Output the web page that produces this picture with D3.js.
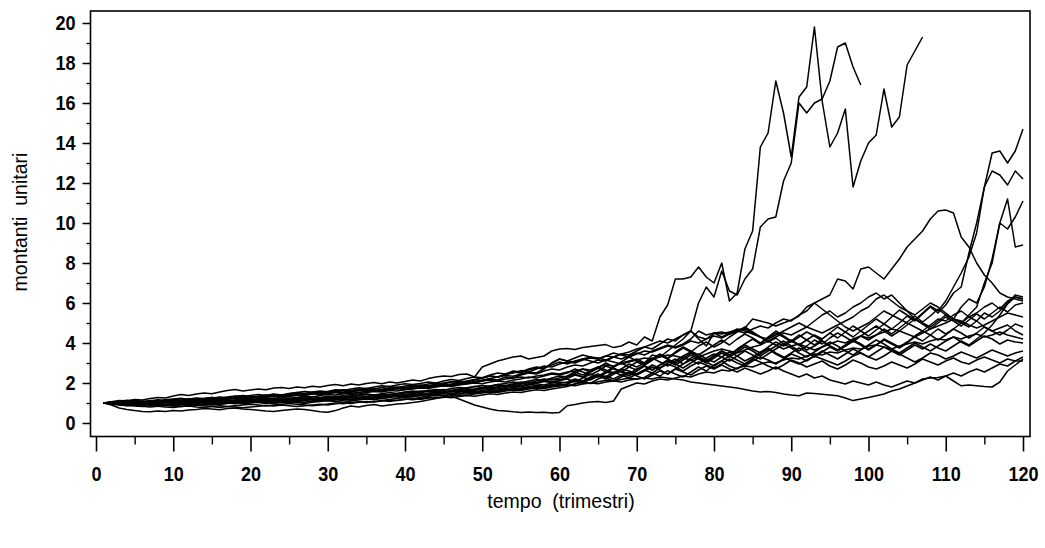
<!DOCTYPE html>
<html><head><meta charset="utf-8">
<script src="https://cdn.jsdelivr.net/npm/d3@7/dist/d3.min.js"></script>
<style>
body{margin:0;background:#fff;}
text{font-family:"Liberation Sans",Arial,Helvetica,sans-serif;fill:#000;}
</style>
</head><body>
<svg id="chart" width="1045" height="548"></svg>
<script>
// ---- data: quarterly unit accumulation values, one array per simulated path (t = 1, 2, 3, ...)
const xTickValues = [0,10,20,30,40,50,60,70,80,90,100,110,120];
const yTickValues = [0,2,4,6,8,10,12,14,16,18,20];
const xLabel = "tempo  (trimestri)";
const yLabel = "montanti  unitari";

const pathA = [
1.00,1.06,1.12,1.10,1.18,1.15,1.22,1.28,1.25,1.35,
1.42,1.38,1.45,1.50,1.46,1.55,1.62,1.68,1.60,1.65,
1.70,1.66,1.75,1.78,1.72,1.80,1.76,1.84,1.80,1.88,
1.92,1.86,1.95,1.90,1.98,2.02,1.96,2.05,2.00,2.08,
2.15,2.10,2.22,2.30,2.35,2.32,2.42,2.45,2.30,2.80,
2.95,3.10,3.20,3.30,3.35,3.20,3.28,3.35,3.60,3.70,
3.72,3.68,3.77,3.82,3.88,3.92,3.77,3.85,4.05,3.90,
4.30,4.10,5.30,5.90,7.20,7.20,7.30,7.80,7.30,7.00,
8.00,6.10,6.50,8.70,9.60,13.8,14.5,17.1,15.5,13.3,
16.3,16.8,19.8,16.1,13.8,14.5,15.7,11.8,13.1,14.0,
14.4,16.7,14.8,15.3,17.9,18.6,19.3];
const pathB = [
1.00,0.95,0.98,1.02,0.96,1.00,1.05,1.02,1.08,1.10,
1.05,1.12,1.15,1.10,1.18,1.22,1.18,1.25,1.28,1.24,
1.30,1.34,1.30,1.38,1.42,1.38,1.45,1.50,1.46,1.52,
1.56,1.50,1.58,1.62,1.66,1.60,1.68,1.72,1.70,1.78,
1.82,1.78,1.85,1.90,1.88,1.95,2.00,1.96,2.05,2.10,
2.15,2.10,2.20,2.25,2.30,2.25,2.35,2.40,2.50,2.45,
2.55,2.60,2.70,2.65,2.80,2.90,2.85,3.00,3.10,3.20,
3.00,3.40,3.30,3.60,3.90,4.20,4.60,6.00,6.80,6.30,
7.60,6.60,6.40,7.20,7.70,9.80,10.2,10.3,12.1,13.0,
16.0,15.5,16.0,16.2,17.1,18.8,19.0,17.8,16.9];
const pathC = [
1.00,1.02,0.95,0.92,0.98,1.00,0.95,0.98,1.04,1.00,
1.06,1.10,1.05,1.12,1.15,1.10,1.08,1.14,1.20,1.16,
1.22,1.25,1.20,1.28,1.32,1.28,1.35,1.30,1.38,1.42,
1.40,1.46,1.50,1.45,1.52,1.58,1.55,1.62,1.60,1.66,
1.70,1.75,1.72,1.80,1.85,1.82,1.90,1.95,2.00,1.96,
2.05,2.10,2.05,2.15,2.20,2.30,2.25,2.35,2.45,2.40,
2.50,2.70,2.55,2.40,2.60,2.85,2.70,2.55,2.80,3.05,
2.90,3.15,3.40,3.20,3.00,3.25,3.50,3.30,3.10,3.35,
3.60,3.40,3.65,3.90,3.70,3.50,3.80,4.05,3.85,4.10,
4.40,4.15,3.90,4.20,4.50,4.25,4.55,4.85,4.60,4.35,
4.65,4.95,4.70,5.00,5.35,5.10,5.45,5.80,5.50,5.90,
6.50,6.80,8.50,10.0,11.8,13.5,13.6,13.0,13.6,14.7];
const pathD = [
1.00,1.03,1.08,1.04,0.98,1.02,1.08,1.12,1.06,1.02,
1.00,1.05,1.02,1.08,1.12,1.18,1.14,1.10,1.16,1.22,
1.18,1.15,1.22,1.28,1.24,1.20,1.26,1.32,1.28,1.34,
1.30,1.38,1.42,1.38,1.45,1.40,1.46,1.52,1.48,1.55,
1.60,1.55,1.62,1.68,1.64,1.72,1.78,1.74,1.82,1.88,
1.84,1.92,1.98,2.05,2.00,2.10,2.18,2.12,2.25,2.35,
2.30,2.50,2.70,2.55,2.75,3.00,2.80,3.05,3.30,3.10,
2.95,3.20,3.45,3.25,3.55,3.80,3.60,3.40,3.65,3.90,
4.15,3.90,4.20,4.45,4.25,4.00,4.30,4.60,4.35,4.10,
3.90,4.15,4.40,4.20,4.50,4.80,4.55,4.30,4.60,4.90,
5.20,4.95,5.30,5.65,5.40,5.15,5.50,5.85,5.60,6.10,
6.80,7.50,8.30,9.50,11.8,12.6,12.4,11.9,12.6,12.2];
const pathE = [
1.00,0.96,0.92,0.96,1.00,0.97,0.93,0.90,0.94,0.98,
1.02,0.98,1.04,1.08,1.04,1.00,1.06,1.10,1.06,1.12,
1.16,1.12,1.08,1.14,1.18,1.15,1.20,1.24,1.20,1.26,
1.22,1.28,1.32,1.28,1.34,1.38,1.35,1.40,1.46,1.42,
1.48,1.52,1.48,1.56,1.60,1.55,1.62,1.68,1.64,1.72,
1.80,1.76,1.85,1.90,1.86,1.95,2.00,2.08,2.02,2.12,
2.20,2.05,2.25,2.45,2.30,2.50,2.75,2.55,2.35,2.60,
2.85,2.65,2.90,3.15,2.95,2.75,3.00,3.25,3.05,2.85,
3.10,3.35,3.15,2.95,3.20,3.45,3.70,3.45,3.25,3.50,
3.75,3.55,3.30,3.55,3.80,3.60,3.85,4.10,3.90,3.65,
3.90,4.15,3.95,3.75,4.00,4.30,4.10,4.40,4.70,4.45,
4.70,5.00,5.40,5.80,7.00,8.00,10.0,9.70,10.3,11.1];
const pathF = [
1.00,1.05,1.00,0.95,0.92,0.88,0.92,0.95,0.90,0.86,
0.90,0.94,0.98,0.94,0.90,0.95,1.00,0.96,1.02,1.06,
1.02,0.98,1.04,1.08,1.12,1.08,1.04,1.10,1.15,1.20,
1.16,1.22,1.26,1.20,1.24,1.30,1.35,1.32,1.38,1.34,
1.40,1.46,1.42,1.50,1.55,1.60,1.56,1.62,1.70,1.75,
1.70,1.80,1.88,1.82,1.95,2.05,2.00,2.10,2.20,2.15,
2.30,2.45,2.30,2.55,2.75,2.55,2.80,3.00,2.80,2.65,
2.90,3.15,3.40,3.20,3.50,3.75,3.55,3.85,4.05,3.80,
4.00,4.30,4.55,4.80,4.55,4.30,4.05,4.25,3.95,4.15,
3.90,3.65,3.85,4.10,3.85,3.65,3.85,4.10,4.35,4.15,
4.40,4.70,4.45,4.75,5.05,5.35,5.05,5.35,5.70,5.40,
5.20,5.80,6.20,6.00,6.80,8.20,10.0,11.2,8.80,8.90];
const pathG = [
1.00,1.04,1.00,1.06,1.10,1.05,1.12,1.08,1.14,1.18,
1.15,1.20,1.25,1.22,1.28,1.24,1.30,1.35,1.32,1.38,
1.42,1.38,1.45,1.40,1.48,1.52,1.48,1.55,1.60,1.56,
1.62,1.66,1.60,1.68,1.72,1.70,1.78,1.82,1.76,1.85,
1.90,1.86,1.95,2.00,1.95,2.05,2.10,2.05,2.15,2.25,
2.35,2.30,2.45,2.55,2.50,2.65,2.75,2.70,3.00,3.20,
3.10,3.25,3.40,3.30,3.20,3.35,3.50,3.40,3.30,3.45,
3.60,3.55,3.70,3.85,3.75,3.90,4.10,4.00,4.20,4.35,
4.25,4.45,4.60,4.50,4.70,4.85,4.75,5.00,5.20,5.10,
5.40,5.60,6.00,6.20,6.40,7.20,7.10,6.70,7.70,7.80,
7.50,7.20,7.70,8.20,8.80,9.20,9.60,10.2,10.6,10.65,
10.5,9.30,8.80,8.00,7.40,7.00,6.50,6.30,6.20,6.10];
const pathH = [
1.00,0.98,1.03,1.08,1.04,1.10,1.06,1.02,1.08,1.12,
1.08,1.14,1.18,1.12,1.08,1.14,1.20,1.25,1.20,1.28,
1.32,1.28,1.35,1.40,1.36,1.42,1.38,1.45,1.50,1.46,
1.52,1.48,1.55,1.62,1.58,1.65,1.60,1.68,1.74,1.70,
1.78,1.84,1.80,1.88,1.95,1.90,1.98,2.05,2.00,2.10,
2.20,2.15,2.30,2.25,2.40,2.50,2.45,2.60,2.70,2.65,
2.80,2.90,2.85,3.00,3.15,3.10,3.30,3.45,3.40,3.60,
3.80,3.70,3.95,4.20,4.10,4.40,4.60,4.30,4.20,4.50,
4.45,4.55,4.65,4.75,5.20,5.10,5.00,4.85,5.00,5.15,
5.35,5.80,6.00,5.70,5.40,5.10,4.80,4.60,4.80,5.00,
5.30,5.60,5.40,5.20,5.00,4.80,4.60,4.90,5.20,5.10,
5.40,5.60,5.30,5.50,5.80,6.00,5.70,6.10,6.30,6.20];
const pathL1 = [
1.00,0.97,0.92,0.88,0.85,0.82,0.86,0.84,0.80,0.78,
0.82,0.85,0.80,0.78,0.83,0.86,0.82,0.80,0.76,0.80,
0.84,0.88,0.85,0.90,0.86,0.82,0.86,0.90,0.94,0.90,
0.96,1.00,0.98,1.04,1.08,1.05,1.10,1.15,1.12,1.18,
1.22,1.18,1.25,1.30,1.28,1.35,1.40,1.38,1.45,1.50,
1.55,1.52,1.60,1.65,1.62,1.70,1.75,1.72,1.80,1.85,
1.90,1.86,1.95,2.00,1.96,2.05,2.10,2.05,2.15,2.20,
2.25,2.20,2.30,2.25,2.20,2.15,2.05,2.00,1.95,1.90,
1.85,1.80,1.75,1.68,1.60,1.55,1.58,1.53,1.45,1.40,
1.36,1.50,1.48,1.44,1.40,1.36,1.25,1.12,1.20,1.28,
1.36,1.45,1.60,1.70,1.85,2.00,2.20,2.25,2.28,2.35,
2.10,1.86,1.90,1.86,1.82,1.80,2.05,2.60,2.90,3.20];
const pathL2 = [
1.00,0.90,0.75,0.68,0.62,0.58,0.56,0.60,0.58,0.62,
0.60,0.65,0.68,0.72,0.70,0.66,0.72,0.75,0.70,0.68,
0.64,0.60,0.57,0.62,0.66,0.70,0.68,0.62,0.56,0.54,
0.62,0.75,0.85,0.80,0.88,0.92,0.85,0.90,0.95,0.98,
1.02,1.08,1.15,1.22,1.30,1.34,1.20,1.05,0.90,0.80,
0.70,0.62,0.60,0.56,0.53,0.55,0.52,0.54,0.50,0.53,
0.86,0.92,1.00,1.05,1.08,1.02,1.10,1.70,1.85,2.00,
1.95,2.10,2.20,2.15,2.25,2.35,2.30,2.45,2.55,2.50,
2.65,2.60,2.75,2.85,2.80,2.95,3.05,3.00,3.15,3.25,
3.20,3.35,3.45,3.40,3.55,3.50,3.65,3.75,3.70,3.85,
3.90,3.80,3.70,3.85,3.95,4.05,3.95,4.10,4.20,4.15,
4.30,4.20,4.35,4.45,4.30,4.40,4.55,4.40,4.30,4.20];
const pathL3 = [
1.00,1.02,0.98,0.94,0.90,0.95,0.92,0.88,0.92,0.96,
0.94,0.90,0.95,1.00,0.96,0.92,0.98,1.02,1.00,1.05,
1.02,1.08,1.12,1.06,1.02,1.08,1.12,1.18,1.14,1.10,
1.16,1.22,1.18,1.25,1.30,1.26,1.32,1.28,1.35,1.40,
1.45,1.40,1.48,1.55,1.50,1.58,1.62,1.56,1.65,1.70,
1.75,1.70,1.78,1.85,1.80,1.90,1.96,1.90,2.00,2.05,
2.00,2.15,2.05,2.25,2.40,2.25,2.10,2.30,2.50,2.35,
2.20,2.40,2.60,2.45,2.70,2.55,2.40,2.65,2.85,2.70,
2.90,2.70,2.55,2.75,2.60,2.45,2.60,2.80,2.60,2.45,
2.30,2.45,2.25,2.35,2.15,2.05,1.95,2.10,2.00,1.90,
2.05,1.90,1.80,1.95,2.10,2.00,2.15,2.30,2.15,2.35,
2.50,2.35,2.55,2.70,2.55,2.75,2.95,2.85,3.10,3.30];
const pathS1 = [
1.00,1.01,1.06,1.10,1.14,1.08,1.04,1.10,1.16,1.20,
1.24,1.18,1.12,1.18,1.24,1.30,1.26,1.32,1.38,1.34,
1.30,1.36,1.42,1.38,1.46,1.52,1.58,1.54,1.50,1.58,
1.66,1.62,1.70,1.76,1.72,1.80,1.86,1.82,1.90,1.96,
1.92,1.98,2.05,2.00,2.10,2.18,2.12,2.22,2.30,2.26,
2.40,2.50,2.45,2.60,2.55,2.70,2.80,2.75,2.90,3.05,
2.95,3.10,3.20,3.10,3.00,3.15,3.30,3.20,3.35,3.50,
3.40,3.60,3.75,3.90,3.80,3.95,4.20,4.60,4.40,4.50,
4.30,4.50,4.70,4.60,4.45,4.30,4.20,4.40,4.60,4.80,
5.00,4.80,5.10,5.40,5.60,5.30,5.50,5.80,6.00,6.30,
6.50,6.20,6.40,6.00,5.60,5.20,5.00,4.80,5.10,5.40,
5.20,5.00,4.80,5.10,5.50,5.30,5.60,6.00,6.40,6.30];
const pathS2 = [
1.00,0.94,0.90,0.86,0.90,0.94,0.98,0.94,0.90,0.92,
0.96,1.00,0.95,0.92,0.96,1.00,1.04,1.00,0.96,1.00,
1.05,1.02,0.98,1.02,1.06,1.02,0.98,1.04,1.08,1.12,
1.08,1.04,1.10,1.15,1.20,1.16,1.22,1.18,1.24,1.28,
1.32,1.28,1.35,1.40,1.36,1.42,1.48,1.45,1.52,1.58,
1.55,1.62,1.68,1.65,1.72,1.78,1.75,1.82,1.90,1.86,
1.95,2.10,2.00,2.20,2.35,2.20,2.45,2.60,2.45,2.70,
2.85,2.65,2.90,3.10,2.90,3.15,3.40,3.20,3.00,3.25,
3.50,3.30,3.55,3.80,3.60,3.35,3.60,3.85,4.10,3.85,
3.60,3.85,4.15,3.95,4.25,4.50,4.30,4.05,4.35,4.60,
4.85,4.60,4.35,4.60,4.90,5.20,4.95,4.70,5.00,5.30,
5.10,4.85,5.15,5.45,5.20,5.50,5.80,5.55,5.90,6.00];
const pathS3 = [
1.00,1.04,0.99,0.94,0.98,1.03,1.00,1.05,1.10,1.06,
1.10,1.16,1.12,1.18,1.22,1.18,1.24,1.20,1.26,1.32,
1.28,1.34,1.40,1.36,1.42,1.48,1.44,1.50,1.56,1.52,
1.58,1.55,1.62,1.68,1.64,1.72,1.68,1.75,1.80,1.76,
1.84,1.90,1.86,1.94,2.00,2.06,2.02,2.10,2.18,2.25,
2.35,2.30,2.42,2.50,2.62,2.55,2.70,2.85,2.80,2.95,
3.05,3.00,3.15,3.25,3.20,3.35,3.30,3.45,3.55,3.70,
3.80,3.95,4.10,4.00,4.20,4.40,4.60,4.20,3.85,4.50,
4.55,4.45,4.60,4.70,4.50,4.30,4.10,3.90,3.70,3.85,
3.95,3.80,3.65,3.80,3.95,4.10,4.00,4.20,4.35,4.25,
4.40,4.55,4.70,4.60,4.45,4.30,4.50,4.70,4.85,5.00,
5.20,5.10,4.90,4.75,4.90,5.10,5.30,5.50,5.40,5.30];
const pathS4 = [
1.00,0.99,0.95,1.00,1.04,1.00,0.96,1.00,1.02,0.98,
1.02,1.06,1.10,1.06,1.02,1.06,1.10,1.15,1.12,1.08,
1.12,1.18,1.15,1.20,1.16,1.12,1.18,1.22,1.26,1.22,
1.28,1.24,1.30,1.36,1.32,1.38,1.44,1.40,1.45,1.50,
1.55,1.60,1.56,1.62,1.68,1.64,1.70,1.76,1.82,1.78,
1.85,1.92,1.88,1.96,2.05,2.00,2.10,2.20,2.15,2.25,
2.35,2.55,2.40,2.60,2.80,2.65,2.50,2.70,2.95,2.80,
3.00,3.25,3.05,2.85,3.10,3.35,3.55,3.30,3.10,3.35,
3.60,3.40,3.70,3.95,4.20,3.95,4.25,4.50,4.30,4.05,
4.30,4.55,4.35,4.10,3.85,3.65,3.90,4.15,3.95,3.70,
3.90,4.20,4.00,3.80,4.05,4.35,4.60,4.40,4.15,4.40,
4.70,4.50,4.25,4.50,4.80,4.60,4.40,4.65,4.95,4.80];
const pathS5 = [
1.00,1.03,0.98,0.93,0.88,0.84,0.80,0.84,0.88,0.85,
0.82,0.86,0.90,0.86,0.82,0.78,0.82,0.86,0.90,0.94,
0.90,0.86,0.90,0.94,0.98,0.94,0.90,0.86,0.90,0.95,
1.00,0.96,1.02,1.06,1.02,1.08,1.12,1.08,1.14,1.20,
1.16,1.22,1.28,1.24,1.30,1.26,1.32,1.38,1.34,1.40,
1.46,1.42,1.50,1.55,1.52,1.60,1.66,1.62,1.70,1.76,
1.82,1.95,2.10,1.98,2.20,2.35,2.20,2.40,2.55,2.40,
2.60,2.80,2.65,2.45,2.70,2.95,3.15,2.95,3.25,3.45,
3.30,3.10,3.35,3.60,3.40,3.20,3.45,3.70,3.95,3.75,
3.50,3.30,3.55,3.80,4.05,3.85,3.60,3.40,3.65,3.90,
4.15,3.95,3.70,3.50,3.75,4.00,3.80,3.60,3.85,4.10,
4.30,4.05,3.85,4.10,4.35,4.20,3.95,4.15,4.05,4.00];
const pathS6 = [
1.00,1.02,1.05,1.00,0.96,0.92,0.96,1.00,1.04,1.08,
1.12,1.08,1.04,1.00,1.04,1.08,1.04,1.08,1.14,1.10,
1.06,1.10,1.14,1.18,1.22,1.26,1.22,1.18,1.24,1.30,
1.34,1.30,1.36,1.40,1.44,1.40,1.36,1.42,1.48,1.54,
1.50,1.56,1.62,1.58,1.54,1.60,1.66,1.72,1.68,1.75,
1.82,1.88,1.84,1.92,1.98,1.94,2.02,2.10,2.06,2.14,
2.22,2.40,2.30,2.15,2.35,2.55,2.45,2.70,2.60,2.45,
2.65,2.90,2.75,3.00,3.20,2.95,3.25,3.45,3.20,3.05,
3.30,3.55,3.35,3.10,3.30,3.55,3.75,3.50,3.30,3.10,
2.95,3.15,3.35,3.20,3.05,2.90,3.10,3.35,3.50,3.30,
3.15,3.35,3.60,3.45,3.25,3.05,3.25,3.50,3.40,3.20,
3.35,3.55,3.40,3.25,3.45,3.65,3.50,3.35,3.50,3.60];
const pathS7 = [
1.00,0.97,1.01,1.05,1.02,0.98,0.94,0.98,1.02,1.06,
1.03,0.99,0.95,0.99,1.03,1.07,1.03,0.99,1.03,1.08,
1.12,1.08,1.04,1.08,1.12,1.16,1.12,1.08,1.12,1.18,
1.22,1.18,1.14,1.20,1.26,1.22,1.28,1.34,1.30,1.26,
1.32,1.38,1.34,1.40,1.46,1.42,1.48,1.54,1.50,1.56,
1.62,1.58,1.65,1.72,1.68,1.75,1.82,1.78,1.85,1.92,
1.88,1.95,2.02,1.98,2.06,2.14,2.10,2.18,2.25,2.20,
2.28,2.50,2.35,2.62,2.45,2.30,2.55,2.80,2.60,2.90,
3.10,2.85,2.70,2.95,3.20,3.05,2.85,2.70,2.90,3.15,
3.00,2.80,2.95,3.10,2.85,2.70,2.90,3.15,3.00,2.80,
2.70,2.85,3.05,2.90,2.75,2.95,3.20,3.05,2.90,3.10,
3.25,3.05,2.95,3.15,3.30,3.15,3.00,3.20,3.10,3.10];
const pathS8 = [
1.00,1.00,0.96,0.92,0.96,1.00,1.04,1.08,1.04,1.00,
1.04,1.00,0.96,1.00,1.04,1.08,1.12,1.08,1.04,1.08,
1.14,1.20,1.16,1.12,1.16,1.22,1.28,1.24,1.20,1.14,
1.08,1.14,1.20,1.26,1.22,1.28,1.24,1.30,1.36,1.32,
1.38,1.44,1.40,1.46,1.52,1.48,1.55,1.60,1.56,1.62,
1.68,1.64,1.72,1.78,1.74,1.82,1.88,1.84,1.92,1.98,
2.05,2.20,2.10,2.30,2.45,2.30,2.55,2.40,2.25,2.45,
2.65,2.50,2.75,2.95,2.80,2.60,2.85,3.05,2.90,2.75,
2.95,3.20,3.00,2.85,3.10,3.30,3.15,2.95,3.20,3.45,
3.30,3.10,3.35,3.60,3.40,3.20,3.45,3.70,3.50,3.30,
3.55,3.80,3.60,3.40,3.65,3.90,3.70,3.95,3.75,3.60,
3.85,4.10,3.90,4.20,4.50,4.90,5.40,5.95,6.30,6.20];
const pathS9 = [
1.00,1.04,1.09,1.14,1.10,1.06,1.11,1.16,1.12,1.08,
1.14,1.20,1.16,1.22,1.28,1.24,1.20,1.26,1.32,1.28,
1.34,1.40,1.36,1.32,1.38,1.44,1.40,1.46,1.42,1.48,
1.54,1.50,1.56,1.52,1.58,1.64,1.60,1.66,1.72,1.68,
1.74,1.80,1.76,1.84,1.90,1.86,1.94,2.00,2.08,2.15,
2.22,2.30,2.38,2.34,2.45,2.55,2.50,2.70,3.00,3.20,
3.10,3.05,3.20,3.30,3.25,3.15,3.05,2.95,3.05,3.15,
3.25,3.20,3.30,3.40,3.35,3.25,3.15,3.30,3.45,3.60,
3.70,3.60,3.50,3.65,3.80,3.90,4.10,4.30,4.50,4.40,
4.60,4.80,4.65,4.50,4.70,4.90,5.10,5.30,5.60,5.80,
6.20,6.40,6.10,5.80,5.60,5.40,5.70,6.00,5.80,5.50,
5.20,5.00,5.30,5.10,4.80,4.60,4.75,4.90,4.60,4.40];

const paths = [pathL2,pathL1,pathL3,pathS7,pathS6,pathS5,pathS4,pathS2,pathS8,pathS3,
               pathS9,pathS1,pathH,pathF,pathE,pathD,pathC,pathG,pathB,pathA];

// ---- layout
const svg = d3.select("#chart");
const frame = {left: 90.5, top: 11, right: 1030, bottom: 436.5};
const x = d3.scaleLinear().domain([0,120]).range([96,1023]);
const y = d3.scaleLinear().domain([0,20]).range([423,23]);
const tickFont = 20.5, squeeze = 0.88;

// series lines
const line = d3.line().x((d,i) => x(i + 1)).y(d => y(d));
svg.append("g").selectAll("path").data(paths).join("path")
  .attr("d", line).attr("fill","none").attr("stroke","#000")
  .attr("stroke-width",1.5).attr("stroke-linejoin","round");

// frame
svg.append("rect").attr("x",frame.left).attr("y",frame.top)
  .attr("width",frame.right-frame.left).attr("height",frame.bottom-frame.top)
  .attr("fill","none").attr("stroke","#000").attr("stroke-width",1.6);

// y axis (major + minor ticks)
const yAxis = svg.append("g").attr("transform",`translate(${frame.left},0)`)
  .call(d3.axisLeft(y).tickValues(yTickValues).tickSize(8).tickPadding(6).tickFormat(d3.format("d")));
yAxis.select(".domain").remove();
yAxis.selectAll("line").attr("stroke-width",1.5);
yAxis.selectAll("text").attr("font-size",tickFont).attr("font-weight","bold")
  .attr("font-family","'Liberation Sans',Arial,sans-serif")
  .attr("x", -15 / squeeze).attr("transform",`scale(${squeeze},1)`);
const yMinor = svg.append("g").attr("transform",`translate(${frame.left},0)`)
  .call(d3.axisLeft(y).tickValues(yTickValues.slice(0,-1).map(v => v + 1)).tickSize(4).tickFormat(""));
yMinor.select(".domain").remove();
yMinor.selectAll("line").attr("stroke-width",1.3);

// x axis (major + minor ticks)
const xAxis = svg.append("g").attr("transform",`translate(0,${frame.bottom})`)
  .call(d3.axisBottom(x).tickValues(xTickValues).tickSize(15).tickPadding(15).tickFormat(d3.format("d")));
xAxis.select(".domain").remove();
xAxis.selectAll("line").attr("stroke-width",1.6);
xAxis.selectAll("text").attr("font-size",tickFont).attr("font-weight","bold")
  .attr("font-family","'Liberation Sans',Arial,sans-serif")
  .attr("transform",`scale(${squeeze},1)`);
const xMinor = svg.append("g").attr("transform",`translate(0,${frame.bottom})`)
  .call(d3.axisBottom(x).tickValues(xTickValues.slice(0,-1).map(v => v + 5)).tickSize(8).tickFormat(""));
xMinor.select(".domain").remove();
xMinor.selectAll("line").attr("stroke-width",1.4);

// axis titles
svg.append("text").attr("x",561).attr("y",508).attr("text-anchor","middle")
  .attr("font-size",19.5).style("white-space","pre").text(xLabel);
svg.append("text").attr("transform","translate(27,222) rotate(-90)").attr("text-anchor","middle")
  .attr("font-size",19.5).style("white-space","pre").text(yLabel);
</script>
</body></html>
